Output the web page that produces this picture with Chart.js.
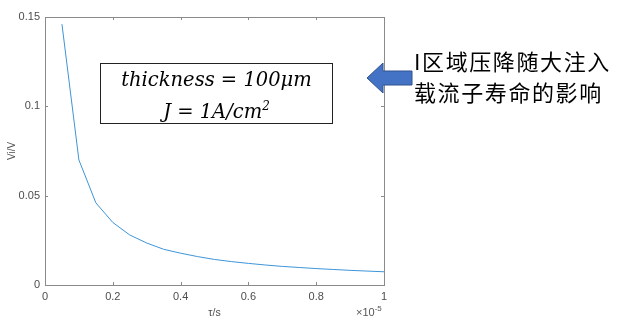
<!DOCTYPE html>
<html>
<head>
<meta charset="utf-8">
<script src="https://cdn.jsdelivr.net/npm/chart.js@4/dist/chart.umd.min.js"></script>
<style>
  html, body { margin: 0; padding: 0; background: #fff; }
  #wrap { position: relative; width: 617px; height: 323px; }
  #myChart { position: absolute; left: 0; top: 0; }
  .note {
    position: absolute; left: 100px; top: 63px; width: 233px; height: 61px;
    border: 1.5px solid #222; box-sizing: border-box;
    font-family: "DejaVu Serif", serif; font-style: italic; font-size: 19.5px;
    line-height: 26px; text-align: center; color: #000; padding-top: 3px;
  }
  .cn {
    position: absolute; left: 414px; top: 45px; font-family: "Noto Sans CJK SC", sans-serif;
    font-size: 22px; line-height: 31px; color: #000; letter-spacing: 1.6px;
  }
  .exp {
    position: absolute; left: 356px; top: 304px; font-family: "Liberation Sans", Arial, sans-serif;
    font-size: 11px; color: #555;
  }
  .exp sup { font-size: 8px; }
  svg { position: absolute; left: 0; top: 0; }
</style>
</head>
<body>
<div id="wrap">
  <canvas id="myChart" width="617" height="323"></canvas>
  <div class="note">thickness = 100μm<br>J = 1A/cm<sup style="font-size:12px">2</sup></div>
  <svg width="617" height="323">
    <polygon points="367,78 383,63 383,71 412,71 412,85 383,85 383,93" fill="#4472c4" stroke="#2f528f" stroke-width="1"/>
  </svg>
  <div class="cn">I区域压降随大注入<br>载流子寿命的影响</div>
  <div class="exp">×10<sup>-5</sup></div>
</div>
<script>
"use strict";
// tau in units of 1e-5 s
const tauValues = [0.05, 0.1, 0.15, 0.2, 0.25, 0.3, 0.35, 0.4, 0.45, 0.5,
  0.55, 0.6, 0.65, 0.7, 0.75, 0.8, 0.85, 0.9, 0.95, 1.0];
const viValues = [0.146, 0.070, 0.046, 0.035, 0.028, 0.0235, 0.020, 0.0178, 0.0159, 0.0143,
  0.0131, 0.0121, 0.0112, 0.0104, 0.0098, 0.0092, 0.0087, 0.0082, 0.0078, 0.0074];
const xTicks = [0, 0.2, 0.4, 0.6, 0.8, 1];
const yTicks = [0, 0.05, 0.1, 0.15];

const axisColor = "#8a8a8a";
const labelColor = "#4d4d4d";

// MATLAB style box with inward ticks
const boxPlugin = {
  id: "box",
  afterDraw(chart) {
    const { ctx, chartArea: a, scales } = chart;
    ctx.save();
    ctx.strokeStyle = axisColor;
    ctx.lineWidth = 1;
    ctx.strokeRect(a.left + 0.5, a.top + 0.5, a.right - a.left, a.bottom - a.top);
    ctx.beginPath();
    xTicks.forEach(function (v) {
      const x = Math.round(scales.x.getPixelForValue(v)) + 0.5;
      ctx.moveTo(x, a.bottom); ctx.lineTo(x, a.bottom - 3);
      ctx.moveTo(x, a.top); ctx.lineTo(x, a.top + 3);
    });
    yTicks.forEach(function (v) {
      const y = Math.round(scales.y.getPixelForValue(v)) + 0.5;
      ctx.moveTo(a.left, y); ctx.lineTo(a.left + 3, y);
      ctx.moveTo(a.right, y); ctx.lineTo(a.right - 3, y);
    });
    ctx.stroke();
    ctx.restore();
  },
};

const ctx = document.getElementById("myChart").getContext("2d");
const myChart = new Chart(ctx, {
  type: "line",
  data: {
    datasets: [
      {
        data: tauValues.map((t, i) => ({ x: t, y: viValues[i] })),
        borderColor: "#3d95d8",
        borderWidth: 1,
        pointRadius: 0,
        tension: 0,
        fill: false,
      },
    ],
  },
  options: {
    responsive: false,
    animation: false,
    layout: { padding: { top: 17, right: 233, left: 0, bottom: 0 } },
    plugins: { legend: { display: false }, tooltip: { enabled: false } },
    scales: {
      x: {
        type: "linear",
        min: 0,
        max: 1,
        afterBuildTicks: (s) => { s.ticks = xTicks.map((v) => ({ value: v })); },
        afterFit: (s) => { s.height = 38; },
        grid: { display: false, drawTicks: false },
        border: { display: false },
        ticks: {
          padding: 5,
          color: labelColor,
          font: { family: "Liberation Sans", size: 11 },
          maxRotation: 0,
          callback: (v) => String(v),
        },
        title: {
          display: true,
          text: "τ/s",
          color: labelColor,
          font: { family: "Liberation Sans", size: 10.5 },
          padding: { top: 0, bottom: 4 },
        },
      },
      y: {
        type: "linear",
        min: 0,
        max: 0.15,
        afterBuildTicks: (s) => { s.ticks = yTicks.map((v) => ({ value: v })); },
        afterFit: (s) => { s.width = 45; },
        grid: { display: false, drawTicks: false },
        border: { display: false },
        ticks: {
          padding: 5,
          color: labelColor,
          font: { family: "Liberation Sans", size: 11 },
          callback: (v) => String(v),
        },
        title: {
          display: true,
          text: "Vi/V",
          color: labelColor,
          font: { family: "Liberation Sans", size: 10 },
          padding: { top: 6, bottom: 0 },
        },
      },
    },
  },
  plugins: [boxPlugin],
});
</script>
</body>
</html>
